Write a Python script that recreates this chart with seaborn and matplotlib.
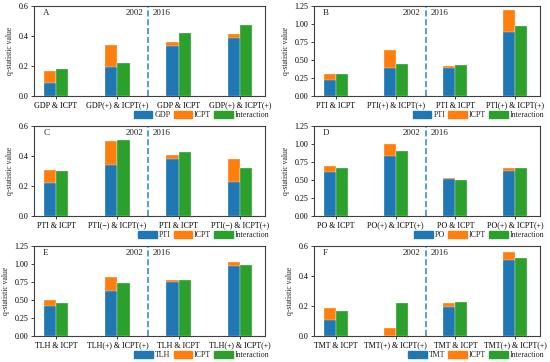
import matplotlib

matplotlib.use("Agg")
import matplotlib.pyplot as plt
import matplotlib.patches as mpatches
import numpy as np
import pandas as pd
import seaborn as sns

# one entry per panel: factor name, pair labels, factor q, ICPT contribution top, interaction q
PANELS = ["A", "B", "C", "D", "E", "F"]
FACTORS = ["GDP", "PTI", "PTI", "PO", "TLH", "TMT"]
PAIR_LABELS = [
    ["GDP & ICPT", "GDP(+) & ICPT(+)", "GDP & ICPT", "GDP(+) & ICPT(+)"],
    ["PTI & ICPT", "PTI(+) & ICPT(+)", "PTI & ICPT", "PTI(+) & ICPT(+)"],
    ["PTI & ICPT", "PTI(\u2212) & ICPT(+)", "PTI & ICPT", "PTI(\u2212) & ICPT(+)"],
    ["PO & ICPT", "PO(+) & ICPT(+)", "PO & ICPT", "PO(+) & ICPT(+)"],
    ["TLH & ICPT", "TLH(+) & ICPT(+)", "TLH & ICPT", "TLH(+) & ICPT(+)"],
    ["TMT & ICPT", "TMT(+) & ICPT(+)", "TMT & ICPT", "TMT(+) & ICPT(+)"],
]
FACTOR_Q = [
    [0.084, 0.191, 0.336, 0.384],
    [0.225, 0.384, 0.390, 0.889],
    [0.220, 0.340, 0.378, 0.229],
    [0.606, 0.833, 0.509, 0.625],
    [0.421, 0.625, 0.750, 0.977],
    [0.104, 0.000, 0.191, 0.507],
]
STACK_TOTAL = [
    [0.169, 0.340, 0.360, 0.416],
    [0.310, 0.640, 0.417, 1.190],
    [0.307, 0.502, 0.407, 0.380],
    [0.690, 0.995, 0.532, 0.671],
    [0.505, 0.815, 0.778, 1.023],
    [0.189, 0.053, 0.220, 0.560],
]
INTERACTION_Q = [
    [0.180, 0.218, 0.418, 0.471],
    [0.310, 0.440, 0.430, 0.977],
    [0.302, 0.509, 0.424, 0.322],
    [0.662, 0.903, 0.505, 0.667],
    [0.458, 0.736, 0.778, 0.981],
    [0.167, 0.218, 0.229, 0.518],
]
Y_MAX = [0.6, 1.25, 0.6, 1.25, 1.25, 0.6]
Y_TICKS = [
    [0, 0.2, 0.4, 0.6],
    [0, 0.25, 0.5, 0.75, 1.0, 1.25],
    [0, 0.2, 0.4, 0.6],
    [0, 0.25, 0.5, 0.75, 1.0, 1.25],
    [0, 0.25, 0.5, 0.75, 1.0, 1.25],
    [0, 0.2, 0.4, 0.6],
]

BLUE, ORANGE, GREEN = "#1f77b4", "#ff7f0e", "#2ca02c"

sns.set_theme(style="ticks")
plt.rcParams["font.family"] = ["Liberation Serif", "DejaVu Serif"]
plt.rcParams["axes.edgecolor"] = "0.25"
plt.rcParams["axes.linewidth"] = 0.8
plt.rcParams["xtick.major.size"] = 2.5
plt.rcParams["ytick.major.size"] = 2.5
plt.rcParams["xtick.major.width"] = 0.7
plt.rcParams["ytick.major.width"] = 0.7

fig = plt.figure(figsize=(5.5, 3.62), dpi=100)

W, H = 550.0, 362.0
col_px = [(34, 265), (314, 540)]
row_px = [(6, 96), (126, 216), (246, 336)]

for i, panel in enumerate(PANELS):
    r, c = divmod(i, 2)
    x0, x1 = col_px[c]
    y0, y1 = row_px[r]
    ax = fig.add_axes([x0 / W, 1 - y1 / H, (x1 - x0) / W, (y1 - y0) / H])

    df = pd.DataFrame(
        {
            "slot": list(range(4)) * 2,
            "bar": ["stack"] * 4 + ["inter"] * 4,
            "top": STACK_TOTAL[i] + INTERACTION_Q[i],
            "base": FACTOR_Q[i] + INTERACTION_Q[i],
        }
    )
    common = dict(
        data=df,
        x="slot",
        hue="bar",
        hue_order=["stack", "inter"],
        order=[0, 1, 2, 3],
        width=0.4,
        dodge=True,
        errorbar=None,
        legend=False,
        saturation=1,
        edgecolor="white",
        linewidth=0.2,
        ax=ax,
    )
    sns.barplot(y="top", palette={"stack": ORANGE, "inter": GREEN}, **common)
    sns.barplot(y="base", palette={"stack": BLUE, "inter": GREEN}, **common)

    ax.set_xlim(-0.36, 3.41)
    ax.set_ylim(0, Y_MAX[i])
    ax.set_yticks(Y_TICKS[i])
    if Y_MAX[i] > 1:
        ax.set_yticklabels([f"{t:.2f}" for t in Y_TICKS[i]])
    else:
        ax.set_yticklabels([f"{t:.1f}" for t in Y_TICKS[i]])
    ax.set_xticks(range(4))
    ax.set_xticklabels(PAIR_LABELS[i])
    ax.tick_params(axis="both", labelsize=5.8, pad=1.5, colors="0.25", labelcolor="black")
    ax.set_xlabel("")
    ax.set_ylabel("q-statistic value", fontsize=5.5, labelpad=3)
    for side in ["top", "right"]:
        ax.spines[side].set_visible(True)

    ax.axvline(1.5, color="#3a8fd0", linestyle="--", linewidth=1.2)
    trans = ax.get_xaxis_transform()
    ax.text(0.04, 0.92, panel, transform=ax.transAxes, fontsize=6.5, va="center", ha="left")
    ax.text(1.42, 0.92, "2002", transform=trans, fontsize=6.5, va="center", ha="right")
    ax.text(1.58, 0.92, "2016", transform=trans, fontsize=6.5, va="center", ha="left")

    handles = [
        mpatches.Patch(color=BLUE, label=FACTORS[i]),
        mpatches.Patch(color=ORANGE, label="ICPT"),
        mpatches.Patch(color=GREEN, label="Interaction"),
    ]
    ax.legend(
        handles=handles,
        loc="center right",
        bbox_to_anchor=(1.02, -0.21),
        ncol=3,
        frameon=False,
        fontsize=5.8,
        handlelength=2.3,
        handleheight=1.0,
        handletextpad=0.25,
        columnspacing=0.4,
        borderaxespad=0,
        borderpad=0,
    )

fig.savefig("out.png", dpi=100)
